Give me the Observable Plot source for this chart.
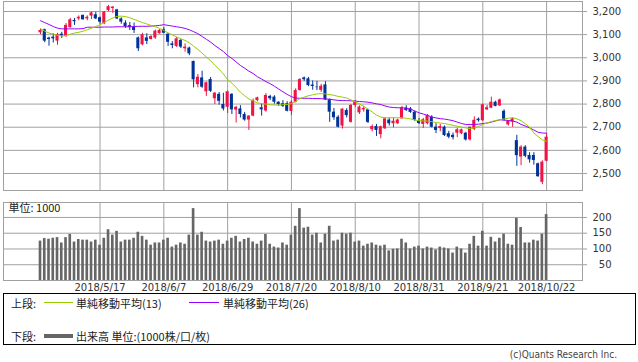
<!DOCTYPE html>
<html><head><meta charset="utf-8">
<script src="https://cdn.jsdelivr.net/npm/d3@7"></script>
<script src="https://cdn.jsdelivr.net/npm/@observablehq/plot@0.6"></script>
<style>
body{margin:0;background:#fff;}
#wrap{position:relative;width:638px;height:362px;overflow:hidden;background:#fff;}
#top,#vol{position:absolute;left:0;}
#top{top:0;} #vol{top:196px;}
#legend{position:absolute;left:3px;top:293px;width:633px;height:52px;border:1px solid #000;box-sizing:border-box;font-family:"Noto Sans CJK JP",sans-serif;font-size:11px;color:#222;}
#legend span{position:absolute;white-space:nowrap;line-height:14px;}
#legend .ln{position:absolute;}
#copy{position:absolute;right:21px;top:349px;font-family:"Liberation Sans Narrow","DejaVu Sans Condensed",sans-serif;font-size:10px;color:#444;white-space:nowrap;}
</style></head>
<body>
<div id="wrap">
  <div id="top"></div>
  <div id="vol"></div>
  <div id="legend">
    <span style="left:7px;top:2px">上段:</span>
    <div class="ln" style="left:40px;top:8px;width:29px;height:1px;background:#99cc00"></div>
    <span style="left:72px;top:2px">単純移動平均(13)</span>
    <div class="ln" style="left:185px;top:8px;width:30px;height:1px;background:#9900ff"></div>
    <span style="left:219px;top:2px">単純移動平均(26)</span>
    <span style="left:7px;top:35px">下段:</span>
    <div class="ln" style="left:40px;top:40px;width:29px;height:4px;background:#666"></div>
    <span style="left:72px;top:35px">出来高 単位:(1000株/口/枚)</span>
  </div>
  <div id="copy">(c)Quants Research Inc.</div>
</div>
<script>
const opens  = [3108,3121,3085,3089,3072,3102,3092,3130,3161,3168,3183,3168,3180,3186,3173,3147,3204,3213,3207,3168,
3150,3139,3132,3086,3056,3086,3079,3085,3104,3121,3102,3060,3049,3075,3039,3042,2984,2884,2913,2853,
2906,2823,2842,2798,2786,2842,2774,2779,2755,2731,2748,2815,2784,2770,2833,2830,2808,2801,2801,2768,
2808,2859,2913,2909,2882,2873,2859,2883,2818,2765,2743,2705,2772,2721,2794,2762,2775,2775,2689,2703,
2668,2693,2731,2715,2715,2736,2783,2779,2765,2727,2712,2715,2743,2700,2694,2700,2672,2665,2674,2672,
2674,2645,2690,2735,2728,2775,2782,2808,2792,2769,2710,2722,2642,2571,2614,2578,2578,2542,2462,2553];
const highs  = [3124,3124,3089,3104,3106,3110,3148,3170,3170,3181,3185,3181,3197,3197,3176,3200,3226,3221,3209,3173,
3160,3153,3150,3090,3106,3104,3095,3120,3122,3130,3104,3070,3087,3080,3060,3046,2986,2928,2942,2895,
2915,2850,2850,2847,2856,2845,2790,2793,2764,2750,2822,2830,2800,2845,2838,2836,2810,2815,2810,2815,
2866,2910,2917,2915,2900,2898,2885,2897,2822,2781,2750,2780,2780,2798,2815,2792,2790,2778,2710,2712,
2705,2740,2740,2740,2735,2790,2793,2785,2770,2738,2738,2755,2750,2715,2712,2705,2682,2675,2695,2692,
2678,2700,2745,2740,2800,2794,2830,2812,2822,2775,2728,2740,2665,2620,2620,2590,2590,2545,2555,2671];
const lows   = [3100,3065,3050,3064,3054,3083,3088,3128,3140,3160,3163,3160,3165,3165,3145,3143,3199,3192,3165,3145,
3127,3118,3105,3027,3052,3057,3077,3080,3102,3104,3049,3039,3045,3040,3024,3009,2870,2870,2868,2833,
2850,2798,2795,2770,2759,2755,2718,2740,2726,2686,2745,2810,2748,2765,2815,2800,2790,2785,2766,2750,
2805,2855,2898,2875,2860,2858,2850,2815,2721,2730,2697,2692,2740,2718,2785,2755,2765,2716,2680,2660,
2650,2690,2705,2697,2712,2735,2768,2760,2725,2712,2695,2710,2697,2672,2680,2660,2650,2645,2655,2668,
2640,2640,2685,2722,2725,2772,2780,2788,2790,2725,2705,2700,2531,2534,2568,2545,2536,2484,2452,2550];
const closes = [3118,3072,3079,3082,3100,3095,3140,3164,3156,3175,3164,3175,3194,3168,3154,3197,3221,3219,3168,3154,
3135,3132,3118,3039,3099,3071,3092,3115,3118,3106,3067,3053,3082,3046,3046,3017,2905,2916,2873,2892,
2855,2847,2812,2779,2853,2775,2786,2755,2731,2748,2815,2827,2775,2837,2823,2808,2798,2790,2769,2808,
2859,2906,2905,2880,2876,2871,2877,2818,2765,2741,2700,2778,2750,2794,2808,2787,2781,2721,2703,2686,
2702,2736,2715,2726,2731,2783,2772,2764,2731,2716,2732,2750,2700,2686,2703,2664,2657,2655,2689,2689,
2645,2700,2730,2728,2797,2784,2808,2790,2818,2731,2726,2736,2577,2614,2574,2559,2556,2486,2549,2657];
const volumes = [125,133,131,134,136,119,136,146,122,130,128,128,122,128,112,134,161,144,156,122,
128,128,134,153,140,128,112,119,119,128,134,106,112,119,115,144,228,144,153,125,
122,125,128,115,125,134,140,122,130,134,122,115,125,146,115,106,103,119,112,144,
172,228,166,169,144,150,119,147,172,125,128,150,147,150,122,125,109,115,119,112,
109,112,94,99,100,131,119,100,106,109,100,106,103,97,106,103,100,87,106,100,
87,115,140,109,156,109,137,122,134,147,115,112,197,168,119,119,128,125,147,209];
const ma13 = [3125,3115,3107,3102,3097,3094,3096,3102,3107,3110,3115,3121,3128,3135,3143,3153,3163,3172,3179,3180,
3178,3173,3166,3159,3152,3146,3140,3134,3127,3118,3108,3099,3090,3082,3075,3065,3050,3036,3020,3003,
2987,2968,2950,2930,2906,2890,2872,2851,2836,2822,2813,2805,2802,2800,2797,2796,2796,2797,2798,2802,
2812,2823,2830,2836,2840,2844,2845,2844,2841,2838,2833,2830,2826,2818,2810,2801,2790,2778,2766,2752,
2744,2741,2741,2741,2741,2741,2739,2736,2731,2728,2727,2727,2724,2720,2718,2716,2712,2708,2704,2700,
2697,2694,2697,2703,2712,2718,2724,2729,2732,2736,2739,2741,2736,2728,2715,2700,2675,2660,2645,2640];
const ma26 = [3160,3152,3144,3135,3128,3125,3125,3125,3125,3125,3126,3132,3132,3132,3132,3133,3133,3133,3134,3134,
3134,3134,3135,3136,3136,3136,3137,3138,3140,3143,3140,3137,3134,3131,3127,3121,3113,3104,3092,3080,
3068,3053,3040,3027,3010,2997,2982,2967,2955,2942,2932,2918,2908,2897,2888,2877,2865,2853,2842,2832,
2826,2825,2825,2825,2824,2824,2823,2822,2821,2818,2816,2815,2815,2814,2813,2811,2810,2808,2805,2801,
2798,2792,2787,2785,2784,2784,2781,2779,2770,2762,2757,2751,2744,2740,2737,2735,2732,2728,2722,2716,
2712,2712,2712,2713,2716,2718,2722,2727,2732,2731,2729,2727,2722,2712,2705,2697,2688,2678,2675,2674];
const priceTicks = [2500,2600,2700,2800,2900,3000,3100,3200];
const volTicks = [50,100,150,200];
const dateLabels = ["2018/5/17","2018/6/7","2018/6/29","2018/7/20","2018/8/10","2018/8/31","2018/9/21","2018/10/22"];
const dateTickIdx = [14,29,44,59,74,89,104,119];

const RED = "#f01446", BLUE = "#003399", GREEN = "#99cc00", PURPLE = "#9900ff", GRID = "#a0a0a0";
const idx = d3.range(opens.length);
const candles = idx.map(i => ({i, o: opens[i], h: highs[i], l: lows[i], c: closes[i], col: closes[i] >= opens[i] ? RED : BLUE}));
const xDomain = [-8.7, 127.44];
const axisStyle = {fontFamily: "DejaVu Sans, sans-serif", fontSize: "10px", color: "#333", background: "#fff", overflow: "visible"};

const topChart = Plot.plot({
  width: 638, height: 196,
  marginLeft: 3, marginRight: 56, marginTop: 1, marginBottom: 6,
  x: {domain: xDomain, axis: null},
  y: {domain: [2426.5, 3243.2], axis: null},
  color: {type: "identity"},
  style: axisStyle,
  marks: [
    Plot.ruleY(priceTicks, {stroke: GRID}),
    Plot.ruleX(dateTickIdx, {stroke: GRID}),
    Plot.ruleX(candles, {x: "i", y1: "l", y2: "h", stroke: "col"}),
    Plot.rect(candles, {x1: d => d.i - 0.36, x2: d => d.i + 0.36, y1: "o", y2: "c", fill: "col"}),
    Plot.line(idx, {x: i => i, y: i => ma26[i], stroke: PURPLE, strokeWidth: 1}),
    Plot.line(idx, {x: i => i, y: i => ma13[i], stroke: GREEN, strokeWidth: 1}),
    Plot.frame({stroke: GRID}),
    Plot.axisY(priceTicks, {anchor: "right", tickFormat: d3.format(","), tickSize: 4, tickPadding: 6, stroke: GRID, fill: "#333"})
  ]
});
document.getElementById("top").appendChild(topChart);

const volChart = Plot.plot({
  width: 638, height: 104,
  marginLeft: 3, marginRight: 56, marginTop: 6, marginBottom: 20,
  x: {domain: xDomain, axis: null},
  y: {domain: [0, 247.4], axis: null},
  style: axisStyle,
  marks: [
    Plot.ruleY(volTicks, {stroke: GRID}),
    Plot.ruleX(dateTickIdx, {stroke: GRID}),
    Plot.rect(idx, {x1: i => i - 0.31, x2: i => i + 0.31, y1: 0, y2: i => volumes[i], fill: "#666"}),
    Plot.frame({stroke: GRID}),
    Plot.axisY(volTicks, {anchor: "right", tickSize: 4, tickPadding: 25, textAnchor: "end", stroke: GRID, fill: "#333"}),
    Plot.axisX(dateTickIdx, {anchor: "bottom", tickSize: 0, tickPadding: 3, tickFormat: d => dateLabels[dateTickIdx.indexOf(d)], fill: "#333"}),
    Plot.text(["単位: 1000"], {frameAnchor: "top-left", dx: 5, dy: 2, textAnchor: "start", lineAnchor: "top", fontSize: 11, fontFamily: "Noto Sans CJK JP", fill: "#222"})
  ]
});
document.getElementById("vol").appendChild(volChart);
</script>
</body></html>
